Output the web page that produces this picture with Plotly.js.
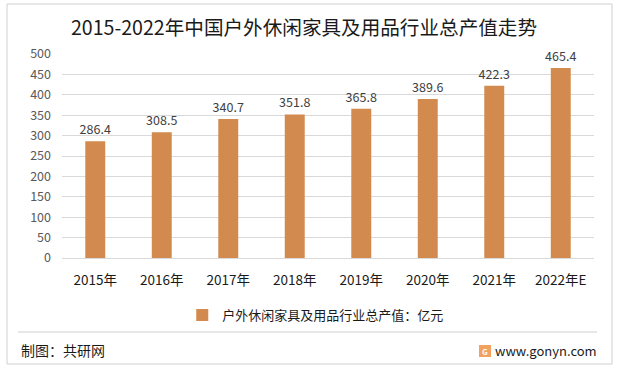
<!DOCTYPE html>
<html>
<head>
<meta charset="utf-8">
<script src="https://cdn.plot.ly/plotly-3.0.1.min.js"></script>
<style>html,body{margin:0;padding:0;background:#fff;}#chart{width:621px;height:374px;}</style>
</head>
<body>
<div id="chart"></div>
<script>
const categories = ["2015年","2016年","2017年","2018年","2019年","2020年","2021年","2022年E"];
const values = [286.4, 308.5, 340.7, 351.8, 365.8, 389.6, 422.3, 465.4];
const seriesName = "户外休闲家具及用品行业总产值：亿元";
const yTicks = [0,50,100,150,200,250,300,350,400,450,500];

const FONT = '"Noto Sans CJK SC", "Microsoft YaHei", sans-serif';
const L = 62, T = 54, W = 532, H = 204;
const px = x => (x - L) / W;
const py = y => (T + H - y) / H;

const trace = {
  type: 'bar',
  x: categories,
  y: values,
  name: seriesName,
  marker: {color: '#D38A4E'},
  text: values.map(v => v.toFixed(1)),
  textposition: 'outside',
  constraintext: 'none',
  textfont: {family: FONT, size: 12.5, color: '#404040'},
  cliponaxis: false,
  showlegend: true
};
const layout = {
  width: 621, height: 374,
  margin: {l: L, r: 621 - L - W, t: T, b: 374 - T - H},
  paper_bgcolor: '#fff', plot_bgcolor: '#fff',
  bargap: 0.7,
  title: {text: '2015-2022年中国户外休闲家具及用品行业总产值走势', font: {family: FONT, size: 19.6, color: '#1a1a1a'}, x: 304 / 621, xanchor: 'center', y: 0.925, yanchor: 'middle'},
  xaxis: {type: 'category', tickfont: {family: FONT, size: 13.5, color: '#1a1a1a'}, showgrid: false, zeroline: false, showline: true, linecolor: '#D9D9D9', ticks: '', ticklabelstandoff: 10},
  yaxis: {range: [0, 500], tickvals: yTicks, tickfont: {family: FONT, size: 12.5, color: '#595959'}, showgrid: true, gridcolor: '#D9D9D9', zeroline: false, showline: false, ticks: '', ticklabelstandoff: 10},
  showlegend: true,
  legend: {orientation: 'h', x: 0.477, xanchor: 'center', y: py(300), yanchor: 'top', font: {family: FONT, size: 13, color: '#1a1a1a'}, itemwidth: 30},
  shapes: [
    {type: 'rect', xref: 'paper', yref: 'paper', x0: px(7), x1: px(612), y0: py(364), y1: py(4), line: {color: '#D0D0D0', width: 1}, fillcolor: 'rgba(0,0,0,0)', layer: 'below'},
    {type: 'line', xref: 'paper', yref: 'paper', x0: px(18), x1: px(597), y0: py(332), y1: py(332), line: {color: '#D0D0D0', width: 1}},
    {type: 'rect', xref: 'paper', yref: 'paper', x0: px(479), x1: px(491), y0: py(357), y1: py(345), line: {width: 0}, fillcolor: '#F2A25E'}
  ],
  annotations: [
    {text: '制图：共研网', xref: 'paper', yref: 'paper', x: px(19), y: py(350), xanchor: 'left', yanchor: 'middle', showarrow: false, font: {family: FONT, size: 14, color: '#1a1a1a'}},
    {text: 'www.gonyn.com', xref: 'paper', yref: 'paper', x: px(599), y: py(350), xanchor: 'right', yanchor: 'middle', showarrow: false, font: {family: FONT, size: 13, color: '#1a1a1a'}},
    {text: '<b>G</b>', xref: 'paper', yref: 'paper', x: px(485), y: py(351), xanchor: 'center', yanchor: 'middle', showarrow: false, font: {family: FONT, size: 8, color: '#fff'}}
  ]
};
Plotly.newPlot('chart', [trace], layout, {displayModeBar: false, staticPlot: true});
</script>
</body>
</html>
